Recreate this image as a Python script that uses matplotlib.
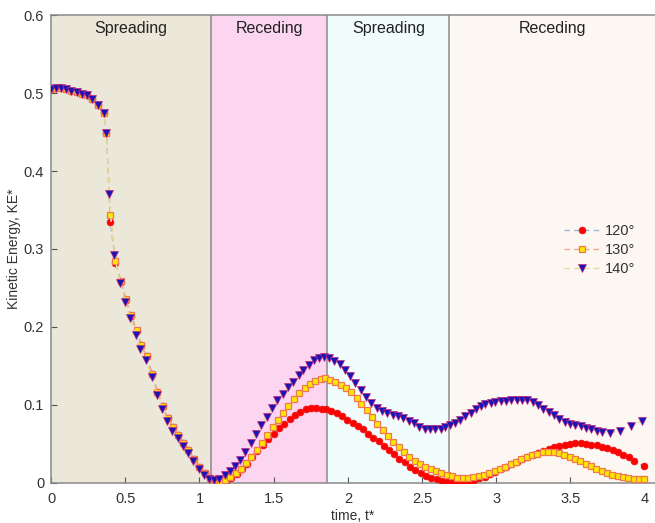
import matplotlib
matplotlib.use("Agg")
import matplotlib.pyplot as plt

plt.rcParams["font.family"] = ["Liberation Sans", "DejaVu Sans"]

# ---- data -------------------------------------------------------------
t_120 = [0.000, 0.036, 0.070, 0.103, 0.137, 0.175, 0.211, 0.245, 0.276, 0.317,
         0.355, 0.373, 0.400, 0.434, 0.470, 0.504, 0.537, 0.578, 0.607, 0.645,
         0.681, 0.717, 0.751, 0.787, 0.820, 0.856, 0.892, 0.926, 0.960, 0.998,
         1.034, 1.070, 1.106, 1.140, 1.178, 1.214, 1.250, 1.286, 1.320, 1.353,
         1.387, 1.425, 1.463, 1.499, 1.535, 1.571, 1.607, 1.643, 1.679, 1.715,
         1.751, 1.787, 1.823, 1.852, 1.888, 1.924, 1.960, 1.996, 2.032, 2.068,
         2.099, 2.135, 2.171, 2.207, 2.243, 2.275, 2.311, 2.347, 2.382, 2.419,
         2.455, 2.490, 2.527, 2.562, 2.598, 2.634, 2.670, 2.706, 2.742, 2.778,
         2.814, 2.850, 2.882, 2.922, 2.958, 2.994, 3.030, 3.066, 3.102, 3.138,
         3.174, 3.210, 3.246, 3.282, 3.318, 3.353, 3.390, 3.426, 3.461, 3.498,
         3.533, 3.569, 3.606, 3.641, 3.677, 3.713, 3.749, 3.785, 3.821, 3.857,
         3.893, 3.929, 3.999]
ke_120 = [0.505, 0.507, 0.506, 0.505, 0.503, 0.501, 0.499, 0.497, 0.492, 0.485,
          0.474, 0.449, 0.334, 0.282, 0.258, 0.235, 0.214, 0.195, 0.177, 0.162,
          0.140, 0.117, 0.099, 0.083, 0.071, 0.061, 0.051, 0.042, 0.031, 0.0205,
          0.012, 0.0064, 0.0035, 0.0013, 0.0022, 0.0056, 0.011, 0.017, 0.024, 0.033,
          0.041, 0.049, 0.056, 0.063, 0.070, 0.076, 0.082, 0.087, 0.091, 0.094,
          0.096, 0.096, 0.095, 0.094, 0.092, 0.089, 0.0855, 0.081, 0.077, 0.073,
          0.0685, 0.063, 0.058, 0.053, 0.047, 0.042, 0.037, 0.031, 0.026, 0.0205,
          0.016, 0.012, 0.009, 0.0064, 0.0043, 0.0026, 0.0013, 0.0005, 0.0003, 0.001,
          0.002, 0.0035, 0.0056, 0.0077, 0.0107, 0.0137, 0.0172, 0.0201, 0.0235, 0.0265,
          0.030, 0.033, 0.036, 0.0385, 0.041, 0.0436, 0.0458, 0.0474, 0.0487, 0.0496,
          0.0505, 0.0505, 0.050, 0.049, 0.048, 0.046, 0.044, 0.042, 0.039, 0.036,
          0.033, 0.028, 0.021]

t_130 = [0.000, 0.036, 0.070, 0.103, 0.137, 0.175, 0.211, 0.245, 0.276, 0.317,
         0.355, 0.373, 0.398, 0.434, 0.470, 0.504, 0.537, 0.578, 0.607, 0.645,
         0.681, 0.717, 0.751, 0.787, 0.820, 0.856, 0.892, 0.926, 0.960, 0.998,
         1.034, 1.070, 1.102, 1.137, 1.173, 1.209, 1.245, 1.279, 1.315, 1.349,
         1.385, 1.421, 1.457, 1.493, 1.528, 1.564, 1.600, 1.636, 1.672, 1.708,
         1.744, 1.780, 1.816, 1.848, 1.879, 1.915, 1.951, 1.987, 2.023, 2.059,
         2.090, 2.126, 2.163, 2.198, 2.234, 2.270, 2.306, 2.342, 2.378, 2.414,
         2.450, 2.486, 2.522, 2.558, 2.594, 2.630, 2.666, 2.702, 2.738, 2.774,
         2.810, 2.846, 2.882, 2.918, 2.954, 2.990, 3.026, 3.062, 3.098, 3.134,
         3.170, 3.206, 3.242, 3.278, 3.314, 3.350, 3.386, 3.422, 3.458, 3.494,
         3.530, 3.566, 3.602, 3.638, 3.674, 3.710, 3.746, 3.782, 3.818, 3.854,
         3.890, 3.926, 3.962, 3.998]
ke_130 = [0.505, 0.507, 0.506, 0.505, 0.503, 0.501, 0.499, 0.497, 0.492, 0.485,
          0.474, 0.449, 0.344, 0.284, 0.259, 0.236, 0.215, 0.196, 0.177, 0.162,
          0.140, 0.117, 0.099, 0.083, 0.071, 0.061, 0.051, 0.042, 0.031, 0.0205,
          0.012, 0.0064, 0.0030, 0.0020, 0.0035, 0.0070, 0.012, 0.018, 0.025, 0.033,
          0.042, 0.051, 0.0615, 0.072, 0.080, 0.089, 0.098, 0.107, 0.1146, 0.121,
          0.1265, 0.131, 0.1333, 0.134, 0.132, 0.1287, 0.1253, 0.1214, 0.1163, 0.1086,
          0.101, 0.093, 0.084, 0.075, 0.068, 0.060, 0.052, 0.0454, 0.039, 0.033,
          0.028, 0.024, 0.0205, 0.0176, 0.015, 0.012, 0.0099, 0.0080, 0.0067, 0.0064,
          0.0066, 0.0072, 0.0085, 0.0105, 0.0125, 0.015, 0.0175, 0.0205, 0.0237, 0.027,
          0.0303, 0.033, 0.0355, 0.0375, 0.039, 0.040, 0.040, 0.0385, 0.036, 0.0335,
          0.0305, 0.0275, 0.024, 0.021, 0.018, 0.0152, 0.0127, 0.0103, 0.0083, 0.0068,
          0.0057, 0.0050, 0.0046, 0.0043]

t_140 = [0.000, 0.036, 0.070, 0.103, 0.137, 0.175, 0.211, 0.245, 0.276, 0.317,
         0.355, 0.373, 0.391, 0.425, 0.466, 0.500, 0.533, 0.572, 0.602, 0.640,
         0.677, 0.713, 0.747, 0.783, 0.816, 0.852, 0.888, 0.922, 0.956, 0.994,
         1.030, 1.066, 1.101, 1.133, 1.169, 1.205, 1.241, 1.274, 1.308, 1.344,
         1.380, 1.416, 1.452, 1.488, 1.524, 1.560, 1.596, 1.632, 1.668, 1.701,
         1.738, 1.771, 1.805, 1.839, 1.870, 1.908, 1.947, 1.982, 2.016, 2.050,
         2.086, 2.122, 2.158, 2.194, 2.230, 2.266, 2.302, 2.338, 2.374, 2.410,
         2.446, 2.481, 2.517, 2.554, 2.589, 2.625, 2.657, 2.688, 2.720, 2.756,
         2.792, 2.827, 2.864, 2.895, 2.927, 2.962, 2.994, 3.030, 3.066, 3.102,
         3.138, 3.174, 3.210, 3.246, 3.282, 3.318, 3.353, 3.390, 3.426, 3.461,
         3.498, 3.533, 3.569, 3.606, 3.641, 3.677, 3.713, 3.767, 3.835, 3.906,
         3.983]
ke_140 = [0.505, 0.507, 0.506, 0.505, 0.503, 0.501, 0.499, 0.497, 0.492, 0.485,
          0.474, 0.449, 0.370, 0.292, 0.256, 0.232, 0.211, 0.190, 0.172, 0.157,
          0.136, 0.113, 0.095, 0.079, 0.067, 0.057, 0.047, 0.038, 0.028, 0.018,
          0.010, 0.005, 0.0035, 0.0047, 0.0099, 0.0154, 0.022, 0.029, 0.040, 0.0505,
          0.0624, 0.074, 0.0846, 0.0954, 0.106, 0.1133, 0.1223, 0.1295, 0.138, 0.1453,
          0.1513, 0.1573, 0.160, 0.1615, 0.1607, 0.1564, 0.1518, 0.1445, 0.1368, 0.1274,
          0.1188, 0.1095, 0.1018, 0.0954, 0.0923, 0.0897, 0.0872, 0.0855, 0.0826, 0.0795,
          0.0761, 0.0718, 0.0692, 0.0685, 0.0685, 0.0692, 0.0718, 0.074, 0.0765, 0.0804,
          0.0855, 0.0897, 0.0941, 0.0983, 0.1009, 0.1026, 0.1035, 0.1044, 0.1047, 0.1056,
          0.106, 0.1064, 0.106, 0.1035, 0.0996, 0.0949, 0.0906, 0.0864, 0.0817, 0.0782,
          0.0756, 0.074, 0.0723, 0.0705, 0.0684, 0.0667, 0.065, 0.0641, 0.0667, 0.0727,
          0.0795]

# contact-line phases
phase_edges = [0.0, 1.08, 1.86, 2.685, 4.07]
phase_names = ["Spreading", "Receding", "Spreading", "Receding"]
phase_colors = ["#EBE8DA", "#FCD6F1", "#F1FCFD", "#FCF7F3"]

x_ticks = [0, 0.5, 1, 1.5, 2, 2.5, 3, 3.5, 4]
x_tick_labels = ["0", "0.5", "1", "1.5", "2", "2.5", "3", "3.5", "4"]
y_ticks = [0, 0.1, 0.2, 0.3, 0.4, 0.5, 0.6]
y_tick_labels = ["0", "0.1", "0.2", "0.3", "0.4", "0.5", "0.6"]

# ---- figure -----------------------------------------------------------
fig = plt.figure(figsize=(6.55, 5.23), dpi=100)
ax = fig.add_axes([0.078, 0.077, 0.922, 0.894])

for i, name in enumerate(phase_names):
    x0, x1 = phase_edges[i], phase_edges[i + 1]
    ax.axvspan(x0, x1, color=phase_colors[i], lw=0, zorder=0)
    ax.text((x0 + x1) / 2, 0.583, name, ha="center", va="center",
            fontsize=11.5, color="#222222", zorder=5)
for xb in phase_edges[1:-1]:
    ax.axvline(xb, color="#8A8A8A", lw=1.1, zorder=1)

ax.plot(t_120, ke_120, ls=(0, (4, 3)), lw=1.0, color="#93B9DC",
        marker="o", ms=4.8, mfc="#FF0000", mec="#F01010", mew=0.6,
        label="120°", zorder=3)
ax.plot(t_130, ke_130, ls=(0, (4, 3)), lw=1.0, color="#F2A88A",
        marker="s", ms=4.2, mfc="#FFE600", mec="#F07850", mew=0.9,
        label="130°", zorder=4)
ax.plot(t_140, ke_140, ls=(0, (4, 3)), lw=1.0, color="#E6DC98",
        marker="v", ms=5.3, mfc="#1A14B4", mec="#C8287A", mew=0.5,
        label="140°", zorder=5)

ax.set_xlim(0, 4.07)
ax.set_ylim(0, 0.6)
ax.set_xticks(x_ticks)
ax.set_xticklabels(x_tick_labels)
ax.set_yticks(y_ticks)
ax.set_yticklabels(y_tick_labels)
ax.tick_params(direction="in", length=4, width=0.8, colors="#555555",
               labelcolor="#333333", labelsize=10.5)
ax.tick_params(axis="x", pad=7)
ax.tick_params(axis="y", pad=5)

for side in ["left", "bottom", "top"]:
    ax.spines[side].set_color("#8A8A8A")
    ax.spines[side].set_linewidth(1.1)
ax.spines["right"].set_visible(False)

ax.set_xlabel("time, t*", fontsize=10, color="#333333", labelpad=2)
ax.set_ylabel("Kinetic Energy, KE*", fontsize=10, color="#333333", labelpad=2)

leg = ax.legend(loc="center left", bbox_to_anchor=(0.838, 0.497), frameon=False,
                fontsize=10.5, handlelength=2.4, handletextpad=0.4,
                labelspacing=0.35, borderpad=0)
for txt in leg.get_texts():
    txt.set_color("#333333")

fig.savefig("out.png", dpi=100)
